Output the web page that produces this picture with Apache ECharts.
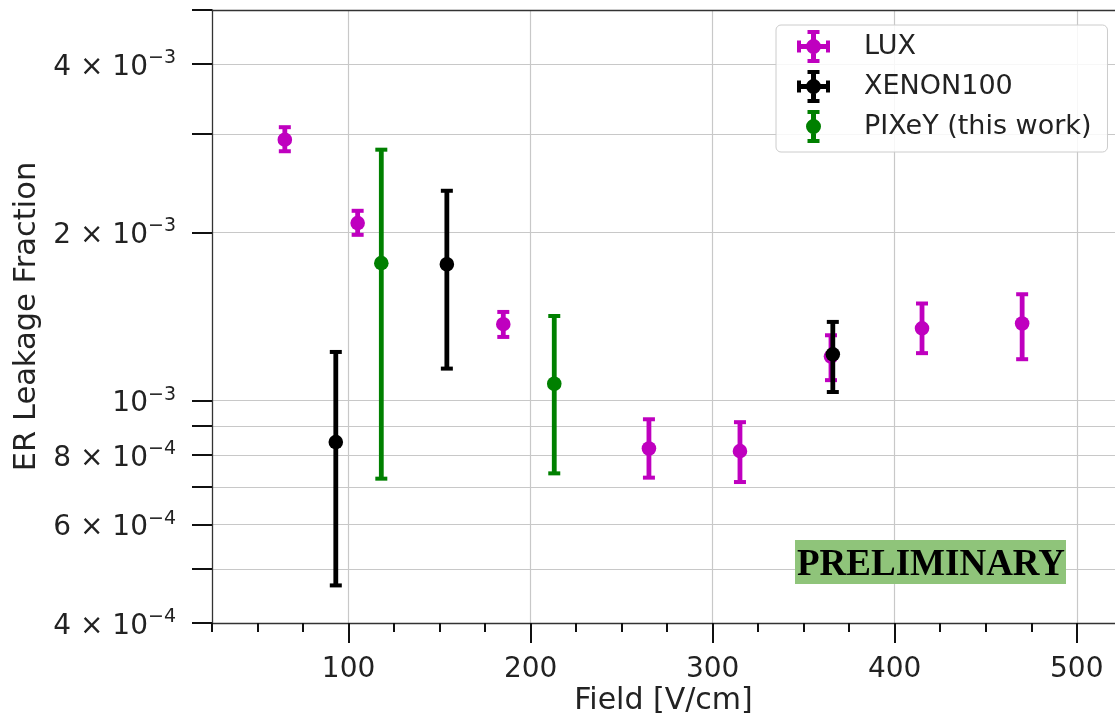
<!DOCTYPE html>
<html><head><meta charset="utf-8">
<script src="https://cdn.jsdelivr.net/npm/echarts@6/dist/echarts.min.js"></script>
<style>html,body{margin:0;padding:0;background:#fff}#c{width:1115px;height:718px}</style>
</head><body><div id="c"></div>
<script>
// ---- data ----
const luxField = [65, 105, 185, 265, 315, 365, 415, 470];
const luxValue = [2.93e-3, 2.078e-3, 1.370e-3, 8.21e-4, 8.12e-4, 1.199e-3, 1.347e-3, 1.374e-3];
const luxLow   = [2.794e-3, 1.98e-3, 1.300e-3, 7.28e-4, 7.15e-4, 1.088e-3, 1.216e-3, 1.186e-3];
const luxHigh  = [3.085e-3, 2.186e-3, 1.441e-3, 9.26e-4, 9.15e-4, 1.309e-3, 1.492e-3, 1.550e-3];

const xenonField = [93, 154, 366];
const xenonValue = [8.43e-4, 1.754e-3, 1.210e-3];
const xenonLow   = [4.67e-4, 1.141e-3, 1.036e-3];
const xenonHigh  = [1.222e-3, 2.374e-3, 1.383e-3];

const pixeyField = [118, 213];
const pixeyValue = [1.762e-3, 1.072e-3];
const pixeyLow   = [7.25e-4, 7.41e-4];
const pixeyHigh  = [2.812e-3, 1.417e-3];

const xMajorTicks = [100, 200, 300, 400, 500];
const xMinorTicks = [25, 50, 75, 125, 150, 175, 225, 250, 275, 325, 350, 375, 425, 450, 475];
const yTicks = [4e-4, 5e-4, 6e-4, 7e-4, 8e-4, 9e-4, 1e-3, 2e-3, 3e-3, 4e-3, 5e-3];
const yLabelTicks = [4e-4, 6e-4, 8e-4, 1e-3, 2e-3, 4e-3];

// ---- styling ----
const FONT = 'DejaVu Sans';
const TXT = '#222222';
const MAG = '#bf00bf', BLK = '#000000', GRN = '#008000';
const X_MIN = 25, X_MAX = 521, Y_MIN = 4e-4, Y_MAX = 5e-3;

function toRows(f, v, lo, hi) { return f.map((x, i) => [x, v[i], lo[i], hi[i]]); }

function errRender(color) {
  const lw = 4.8, capW = 12, capT = 4, r = 7.3;
  return function (params, api) {
    const x = api.value(0), y = api.value(1), lo = api.value(2), hi = api.value(3);
    const p = api.coord([x, y]), pl = api.coord([x, lo]), ph = api.coord([x, hi]);
    return {
      type: 'group', children: [
        { type: 'line', shape: { x1: p[0], y1: ph[1], x2: p[0], y2: pl[1] }, style: { stroke: color, lineWidth: lw } },
        { type: 'line', shape: { x1: p[0] - capW / 2, y1: ph[1], x2: p[0] + capW / 2, y2: ph[1] }, style: { stroke: color, lineWidth: capT } },
        { type: 'line', shape: { x1: p[0] - capW / 2, y1: pl[1], x2: p[0] + capW / 2, y2: pl[1] }, style: { stroke: color, lineWidth: capT } },
        { type: 'circle', shape: { cx: p[0], cy: p[1], r: r }, style: { fill: color } }
      ]
    };
  };
}

function yLabel(v) {
  const e = Math.floor(Math.log10(v) + 1e-6);
  const m = Math.round(v / Math.pow(10, e));
  const sup = '{s|\u2212' + (-e) + '}';
  return m === 1 ? '{b|10}' + sup : '{b|' + m + ' \u00d7 10}' + sup;
}

const crossIcon = 'path://M14 0h5v33h-5Z M10.5 0h12v4h-12Z M10.5 29h12v4h-12Z M0 14h33v5h-33Z M0 10.5h4v12h-4Z M29 10.5h4v12h-4Z M9 16.5A7.5 7.5 0 1 1 24 16.5A7.5 7.5 0 1 1 9 16.5Z';
const barIcon = 'path://M3.5 0h5v33h-5Z M0 0h12v4h-12Z M0 29h12v4h-12Z M-1.5 16.5A7.5 7.5 0 1 1 13.5 16.5A7.5 7.5 0 1 1 -1.5 16.5Z';

const chart = echarts.init(document.getElementById('c'), null, { renderer: 'canvas' });
chart.setOption({
  animation: false,
  backgroundColor: '#ffffff',
  grid: { left: 212, top: 10, right: 0, bottom: 95, containLabel: false, outerBoundsMode: 'none' },
  xAxis: [
    {
      type: 'value', min: X_MIN, max: X_MAX, position: 'bottom',
      name: 'Field [V/cm]', nameLocation: 'middle', nameGap: 63, nameMoveOverlap: false,
      nameTextStyle: { fontFamily: FONT, fontSize: 30, color: TXT },
      axisLine: { show: true, onZero: false, lineStyle: { color: '#333333', width: 1.3 } },
      axisTick: { show: true, customValues: xMajorTicks, length: 20, lineStyle: { color: '#111111', width: 2 } },
      axisLabel: { customValues: xMajorTicks, margin: 33, fontFamily: FONT, fontSize: 28, color: TXT },
      splitLine: { show: true, lineStyle: { color: '#c8c8c8', width: 1.2 } }
    },
    {
      type: 'value', min: X_MIN, max: X_MAX, position: 'bottom',
      axisLine: { show: false, onZero: false },
      axisTick: { show: true, customValues: xMinorTicks, length: 9, lineStyle: { color: '#111111', width: 2 } },
      axisLabel: { show: false },
      splitLine: { show: false }
    },
    {
      type: 'value', min: X_MIN, max: X_MAX, position: 'top',
      axisLine: { show: true, onZero: false, lineStyle: { color: '#333333', width: 1.3 } },
      axisTick: { show: false }, axisLabel: { show: false }, splitLine: { show: false }
    }
  ],
  yAxis: {
    type: 'log', logBase: 10, min: Y_MIN, max: Y_MAX,
    name: 'ER Leakage Fraction', nameLocation: 'middle', nameRotate: 90, nameGap: 169, nameMoveOverlap: false,
    nameTextStyle: { fontFamily: FONT, fontSize: 30.5, color: TXT },
    axisLine: { show: true, onZero: false, lineStyle: { color: '#333333', width: 1.3 } },
    axisTick: { show: true, customValues: yTicks, length: 20, lineStyle: { color: '#111111', width: 2 } },
    axisLabel: {
      customValues: yLabelTicks, margin: 36, formatter: yLabel, padding: [7, 0, 0, 0],
      rich: {
        b: { fontFamily: FONT, fontSize: 28, color: TXT, lineHeight: 38 },
        s: { fontFamily: FONT, fontSize: 19, color: TXT, lineHeight: 24, verticalAlign: 'top' }
      }
    },
    splitLine: { show: true, lineStyle: { color: '#c8c8c8', width: 1.2 } },
    minorTick: { show: false }, minorSplitLine: { show: false }
  },
  legend: {
    orient: 'vertical', left: 776, top: 25,
    padding: [5, 16, 9, 21], itemWidth: 33, itemHeight: 33, itemGap: 7,
    symbolKeepAspect: true,
    backgroundColor: 'rgba(255,255,255,0.85)', borderColor: '#cccccc', borderWidth: 1, borderRadius: 5,
    textStyle: { fontFamily: FONT, fontSize: 27, color: TXT, padding: [0, 0, 0, 29] },
    data: [
      { name: 'LUX', icon: crossIcon },
      { name: 'XENON100', icon: crossIcon },
      { name: 'PIXeY (this work)', icon: barIcon }
    ]
  },
  graphic: [
    { type: 'rect', left: 795, top: 540, z: 100, shape: { width: 271, height: 44 }, style: { fill: '#8fc47a' } },
    { type: 'text', x: 931, y: 565, z: 101, style: { text: 'PRELIMINARY', fontFamily: 'Liberation Serif', fontWeight: 'bold', fontSize: 37, fill: '#000000', align: 'center', verticalAlign: 'middle' } }
  ],
  series: [
    { name: 'LUX', type: 'custom', xAxisIndex: 0, yAxisIndex: 0, itemStyle: { color: MAG }, encode: { x: 0, y: [1, 2, 3] }, renderItem: errRender(MAG), data: toRows(luxField, luxValue, luxLow, luxHigh), z: 3 },
    { name: 'XENON100', type: 'custom', xAxisIndex: 0, yAxisIndex: 0, itemStyle: { color: BLK }, encode: { x: 0, y: [1, 2, 3] }, renderItem: errRender(BLK), data: toRows(xenonField, xenonValue, xenonLow, xenonHigh), z: 4 },
    { name: 'PIXeY (this work)', type: 'custom', xAxisIndex: 0, yAxisIndex: 0, itemStyle: { color: GRN }, encode: { x: 0, y: [1, 2, 3] }, renderItem: errRender(GRN), data: toRows(pixeyField, pixeyValue, pixeyLow, pixeyHigh), z: 5 }
  ]
});
</script></body></html>
